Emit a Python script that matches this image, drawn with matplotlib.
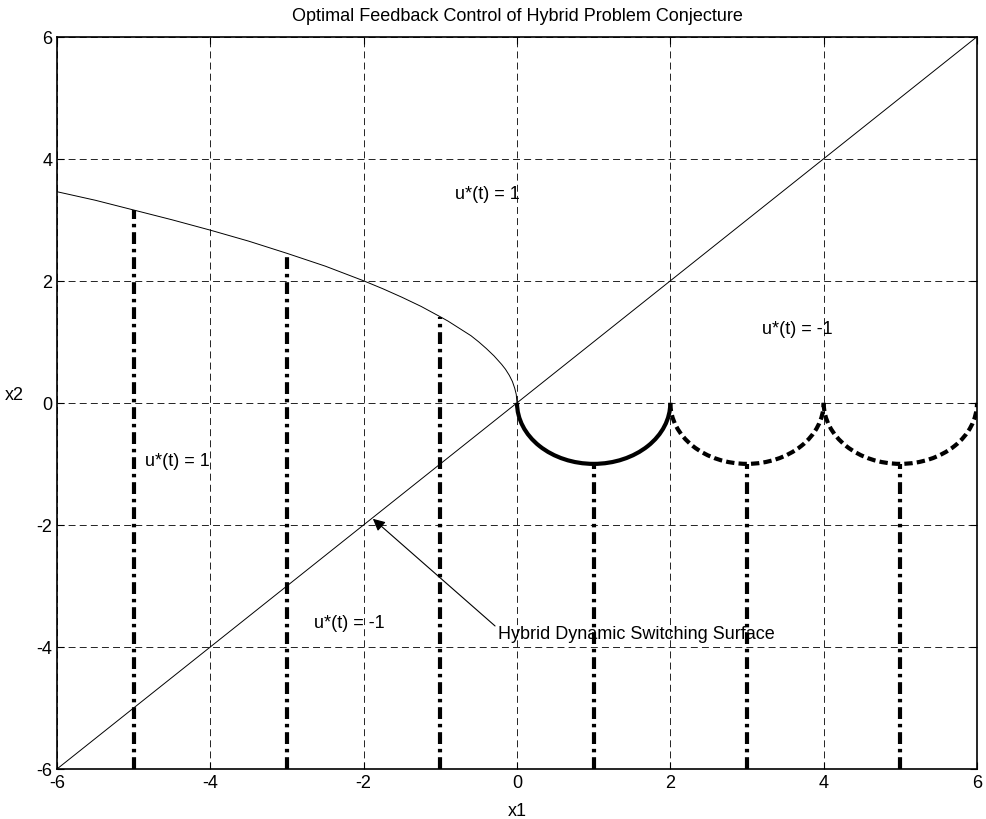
import numpy as np
import matplotlib
matplotlib.use("Agg")
import matplotlib.pyplot as plt
from matplotlib.patches import Arc

# switching curve (x1, x2)
curve_x1 = [-6.0, -5.5, -5.0, -4.5, -4.0, -3.5, -3.0, -2.5, -2.0, -1.75, -1.5, -1.25,
            -1.0, -0.9, -0.8, -0.7, -0.6, -0.5, -0.4, -0.3, -0.2, -0.15, -0.1,
            -0.06, -0.03, -0.01, 0.0]
curve_x2 = [3.46, 3.32, 3.16, 3.0, 2.83, 2.65, 2.45, 2.24, 2.0, 1.87, 1.73, 1.58,
            1.41, 1.34, 1.26, 1.18, 1.10, 1.0, 0.89, 0.77, 0.63, 0.55, 0.45,
            0.35, 0.24, 0.14, 0.0]

# diagonal switching surface
diag_x1 = [-6, 6]
diag_x2 = [-6, 6]

# vertical dash-dot lines: position and top end
vline_x1 = [-5, -3, -1, 1, 3, 5]
vline_top = [3.16, 2.45, 1.41, -1.0, -1.0, -1.0]

# lower half circles: centers, radius, style
arc_centers = [1, 3, 5]
arc_radius = 1.0
arc_styles = ["solid", "dashed", "dashed"]

labels = ["u*(t) = 1", "u*(t) = -1", "u*(t) = 1", "u*(t) = -1"]
label_x1 = [-0.81, 3.2, -4.85, -2.65]
label_x2 = [3.43, 1.22, -0.95, -3.6]

ticks = [-6, -4, -2, 0, 2, 4, 6]

plt.rcParams["font.family"] = ["Liberation Sans", "DejaVu Sans"]
plt.rcParams["lines.scale_dashes"] = False
plt.rcParams["axes.unicode_minus"] = False

fig = plt.figure(figsize=(9.87, 8.2), dpi=100)
ax = fig.add_axes([57 / 987, 0.061, 920 / 987, 0.893])

ax.plot(diag_x1, diag_x2, color="k", lw=0.7)
ax.plot(curve_x1, curve_x2, color="k", lw=0.7)

for x, top in zip(vline_x1, vline_top):
    ax.plot([x, x], [-6, top], color="k", lw=3,
            linestyle=(0, (8.5, 3.5, 2.5, 3.5)))

for c, st in zip(arc_centers, arc_styles):
    ls = "-" if st == "solid" else (0, (6, 3))
    ax.add_patch(Arc((c, 0), 2 * arc_radius, 2 * arc_radius, theta1=180, theta2=360,
                     color="k", lw=3, linestyle=ls))

for t, x, y in zip(labels, label_x1, label_x2):
    ax.text(x, y, t, fontsize=13, ha="left", va="center")

ax.annotate("Hybrid Dynamic Switching Surface", xy=(-1.88, -1.9), xytext=(-0.25, -3.78),
            fontsize=13, ha="left", va="center",
            arrowprops=dict(arrowstyle="-|>", color="k", lw=0.8, shrinkA=0, shrinkB=0,
                            mutation_scale=18, relpos=(0, 0.8)))

ax.set_xlim(-6, 6)
ax.set_ylim(-6, 6)
ax.set_xticks(ticks)
ax.set_yticks(ticks)
ax.tick_params(direction="in", top=True, right=True, labelsize=13, length=5, width=0.8)
ax.grid(True, color="k", lw=0.6, linestyle=(0, (5, 3)))
ax.set_axisbelow(True)
for s in ax.spines.values():
    s.set_linewidth(1.2)

ax.set_title("Optimal Feedback Control of Hybrid Problem Conjecture", fontsize=13, pad=12)
ax.set_xlabel("x1", fontsize=13, labelpad=8)
ax.set_ylabel("x2", fontsize=13, rotation=0, labelpad=16)

fig.savefig("out.png", dpi=100)
